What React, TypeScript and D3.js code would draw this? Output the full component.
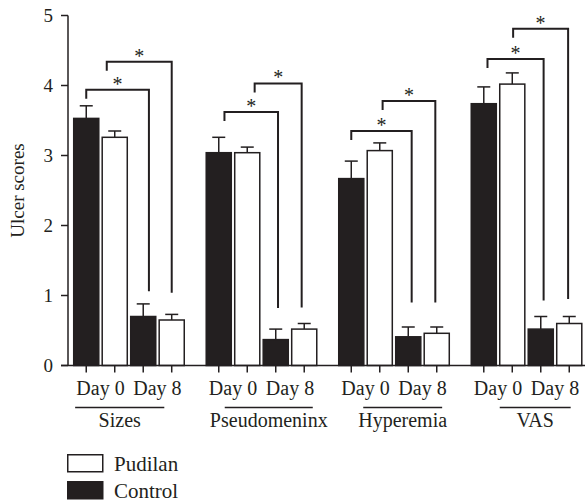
import React from 'react';
import * as d3 from 'd3';

const groups = ['Sizes', 'Pseudomeninx', 'Hyperemia', 'VAS'];
const barKeys = ['c0', 'p0', 'c8', 'p8'];

// means and SE, one value per group
const controlDay0 = [3.53, 3.04, 2.67, 3.74];
const controlDay0Err = [0.18, 0.22, 0.25, 0.24];
const pudilanDay0 = [3.26, 3.04, 3.07, 4.02];
const pudilanDay0Err = [0.09, 0.08, 0.11, 0.16];
const controlDay8 = [0.7, 0.37, 0.41, 0.52];
const controlDay8Err = [0.18, 0.15, 0.14, 0.18];
const pudilanDay8 = [0.65, 0.52, 0.46, 0.6];
const pudilanDay8Err = [0.08, 0.08, 0.09, 0.1];

// significance brackets (level / leg drop in score units, ends as bar index)
const innerLevel = [3.94, 3.62, 3.35, 4.38];
const innerFrom = [0, 0.2, 0, 0.13];
const innerTo = [2.2, 2.08, 2.12, 2.1];
const innerDrop = [1.06, 0.82, 0.9, 0.93];
const outerLevel = [4.34, 4.03, 3.78, 4.81];
const outerFrom = [0.72, 1.26, 1.1, 1.03];
const outerTo = [3.0, 2.91, 2.95, 2.96];
const outerDrop = [1.04, 0.83, 0.9, 0.95];

// group underline ends, as bar index
const underlineFrom = [-0.39, 0.21, 0.42, 0.56];
const underlineTo = [2.74, 3.3, 3.19, 3.05];

const yTicks = [0, 1, 2, 3, 4, 5];
const dayLabels = ['Day 0', 'Day 8'];
const legendItems = [
  { label: 'Pudilan', fill: '#ffffff' },
  { label: 'Control', fill: '#231f20' },
];

const W = 587;
const H = 503;
const INK = '#231f20';
const FONT = "'Liberation Serif', 'DejaVu Serif', serif";

export default function App() {
  const y = d3.scaleLinear().domain([0, 5]).range([365.5, 15.5]);
  const gx = d3.scaleBand<string>().domain(groups).range([72, 583.5]).paddingInner(0.14);
  const bx = d3.scaleBand<string>().domain(barKeys).range([0, gx.bandwidth()]).paddingInner(0.12).paddingOuter(0.06);
  const bw = bx.bandwidth();
  const step = bx.step();

  const cx = (g: string, f: number) => (gx(g) as number) + (bx('c0') as number) + bw / 2 + f * step;

  const series = [
    { key: 'c0', vals: controlDay0, errs: controlDay0Err, fill: INK },
    { key: 'p0', vals: pudilanDay0, errs: pudilanDay0Err, fill: '#ffffff' },
    { key: 'c8', vals: controlDay8, errs: controlDay8Err, fill: INK },
    { key: 'p8', vals: pudilanDay8, errs: pudilanDay8Err, fill: '#ffffff' },
  ];

  const brackets = groups.flatMap((g, i) => [
    { g, level: innerLevel[i], from: innerFrom[i], to: innerTo[i], drop: innerDrop[i] },
    { g, level: outerLevel[i], from: outerFrom[i], to: outerTo[i], drop: outerDrop[i] },
  ]);

  const axisX0 = 61;
  const axisX1 = 585;

  return (
    <svg width={W} height={H} style={{ position: 'absolute', left: 0, top: 0, fontFamily: FONT }}>
      {/* bars */}
      {series.map((s) =>
        groups.map((g, i) => {
          const x = (gx(g) as number) + (bx(s.key) as number);
          return (
            <g key={s.key + g}>
              <line x1={x + bw / 2} x2={x + bw / 2} y1={y(s.vals[i])} y2={y(s.vals[i] + s.errs[i])} stroke={INK} strokeWidth={1.5} />
              <line x1={x + bw / 2 - 6.5} x2={x + bw / 2 + 6.5} y1={y(s.vals[i] + s.errs[i])} y2={y(s.vals[i] + s.errs[i])} stroke={INK} strokeWidth={1.5} />
              <rect x={x} y={y(s.vals[i])} width={bw} height={y(0) - y(s.vals[i])} fill={s.fill} stroke={INK} strokeWidth={1.5} />
            </g>
          );
        })
      )}

      {/* brackets */}
      {brackets.map((b, i) => {
        const x1 = cx(b.g, b.from);
        const x2 = cx(b.g, b.to);
        const yl = y(b.level);
        return (
          <g key={'b' + i}>
            <path d={`M${x1},${yl + 9}V${yl}H${x2}V${y(b.drop)}`} fill="none" stroke={INK} strokeWidth={2} />
            <text x={(x1 + x2) / 2} y={yl + 1} textAnchor="middle" fontSize={20} fill={INK}>*</text>
          </g>
        );
      })}

      {/* y axis */}
      <line x1={68} x2={68} y1={y(0)} y2={y(5)} stroke={INK} strokeWidth={1.5} />
      {yTicks.map((t) => (
        <g key={'yt' + t}>
          <line x1={61} x2={68} y1={y(t)} y2={y(t)} stroke={INK} strokeWidth={1.5} />
          <text x={53} y={y(t) + 6} textAnchor="end" fontSize={19} fill={INK}>{t}</text>
        </g>
      ))}
      <text transform={`translate(24,${y(2.5)}) rotate(-90)`} textAnchor="middle" fontSize={19} fill={INK}>Ulcer scores</text>

      {/* x axis */}
      <line x1={axisX0} x2={axisX1} y1={y(0)} y2={y(0)} stroke={INK} strokeWidth={1.5} />
      {groups.map((g, i) => (
        <g key={'gx' + g}>
          {barKeys.map((k, j) => (
            <line key={k} x1={cx(g, j)} x2={cx(g, j)} y1={y(0)} y2={y(0) + 7} stroke={INK} strokeWidth={1.5} />
          ))}
          {dayLabels.map((d, j) => (
            <text key={d} x={cx(g, j * 2 + 0.5)} y={395} textAnchor="middle" fontSize={20} fill={INK}>{d}</text>
          ))}
          <line x1={cx(g, underlineFrom[i])} x2={cx(g, underlineTo[i])} y1={407.5} y2={407.5} stroke={INK} strokeWidth={1.5} />
          <text x={(cx(g, underlineFrom[i]) + cx(g, underlineTo[i])) / 2} y={427} textAnchor="middle" fontSize={20} fill={INK}>{g}</text>
        </g>
      ))}

      {/* legend */}
      {legendItems.map((it, i) => (
        <g key={it.label} transform={`translate(67,${454 + i * 27})`}>
          <rect x={0.75} y={0.75} width={35} height={17} fill={it.fill} stroke={INK} strokeWidth={1.5} />
          <text x={47} y={17} fontSize={21} fill={INK}>{it.label}</text>
        </g>
      ))}
    </svg>
  );
}
